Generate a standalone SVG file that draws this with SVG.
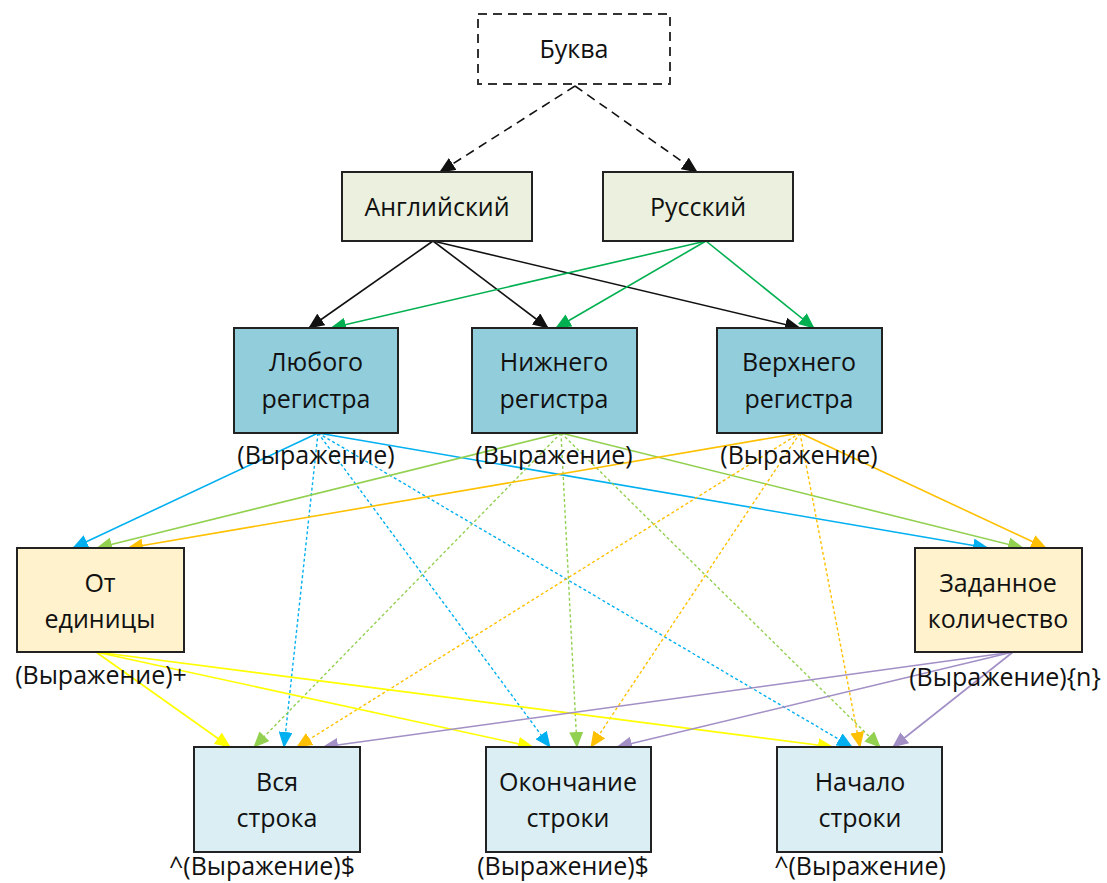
<svg xmlns="http://www.w3.org/2000/svg" width="1107" height="883" viewBox="0 0 1107 883">
<style>
.t{font-family:"Open Sans","Noto Sans",sans-serif;font-size:25px;fill:#111;text-anchor:middle}
.b{stroke:#222;stroke-width:2}
.c{fill:none;stroke-width:1.6}
.d{fill:none;stroke-width:1.4;stroke-dasharray:3 2.5}
</style>
<defs>
<marker id="mk" viewBox="0 0 16 14" markerWidth="16" markerHeight="14" refX="15" refY="7" orient="auto" markerUnits="userSpaceOnUse"><path d="M0,0L16,7L0,14z" fill="#111"/></marker>
<marker id="mg" viewBox="0 0 16 14" markerWidth="16" markerHeight="14" refX="15" refY="7" orient="auto" markerUnits="userSpaceOnUse"><path d="M0,0L16,7L0,14z" fill="#00B050"/></marker>
<marker id="mb" viewBox="0 0 16 14" markerWidth="16" markerHeight="14" refX="15" refY="7" orient="auto" markerUnits="userSpaceOnUse"><path d="M0,0L16,7L0,14z" fill="#00B0F0"/></marker>
<marker id="ml" viewBox="0 0 16 14" markerWidth="16" markerHeight="14" refX="15" refY="7" orient="auto" markerUnits="userSpaceOnUse"><path d="M0,0L16,7L0,14z" fill="#92D050"/></marker>
<marker id="mo" viewBox="0 0 16 14" markerWidth="16" markerHeight="14" refX="15" refY="7" orient="auto" markerUnits="userSpaceOnUse"><path d="M0,0L16,7L0,14z" fill="#FFC000"/></marker>
<marker id="my" viewBox="0 0 16 14" markerWidth="16" markerHeight="14" refX="15" refY="7" orient="auto" markerUnits="userSpaceOnUse"><path d="M0,0L16,7L0,14z" fill="#FFFF00"/></marker>
<marker id="mp" viewBox="0 0 16 14" markerWidth="16" markerHeight="14" refX="15" refY="7" orient="auto" markerUnits="userSpaceOnUse"><path d="M0,0L16,7L0,14z" fill="#A18FC6"/></marker>
</defs>
<rect width="1107" height="883" fill="#fff"/>

<g id="connectors">
<path d="M575,86L440,172" class="c" stroke="#111" stroke-dasharray="9 6" marker-end="url(#mk)"/>
<path d="M575,86L697,172" class="c" stroke="#111" stroke-dasharray="9 6" marker-end="url(#mk)"/>

<path d="M433,241L309,328" class="c" stroke="#111" marker-end="url(#mk)"/>
<path d="M433,241L548,328" class="c" stroke="#111" marker-end="url(#mk)"/>
<path d="M433,241L800,328" class="c" stroke="#111" marker-end="url(#mk)"/>
<path d="M706,241L331,328" class="c" stroke="#00B050" marker-end="url(#mg)"/>
<path d="M706,241L556,328" class="c" stroke="#00B050" marker-end="url(#mg)"/>
<path d="M706,241L814,328" class="c" stroke="#00B050" marker-end="url(#mg)"/>

<path d="M318,433L73,548" class="c" stroke="#00B0F0" marker-end="url(#mb)"/>
<path d="M318,433L988,548" class="c" stroke="#00B0F0" marker-end="url(#mb)"/>
<path d="M318,433L284,747" class="d" stroke="#00B0F0" marker-end="url(#mb)"/>
<path d="M318,433L550,747" class="d" stroke="#00B0F0" marker-end="url(#mb)"/>
<path d="M318,433L852,747" class="d" stroke="#00B0F0" marker-end="url(#mb)"/>

<path d="M561,433L97,548" class="c" stroke="#92D050" marker-end="url(#ml)"/>
<path d="M561,433L1023,548" class="c" stroke="#92D050" marker-end="url(#ml)"/>
<path d="M561,433L254,747" class="d" stroke="#92D050" marker-end="url(#ml)"/>
<path d="M561,433L577,747" class="d" stroke="#92D050" marker-end="url(#ml)"/>
<path d="M561,433L880,747" class="d" stroke="#92D050" marker-end="url(#ml)"/>

<path d="M800,433L128,548" class="c" stroke="#FFC000" marker-end="url(#mo)"/>
<path d="M800,433L1046,548" class="c" stroke="#FFC000" marker-end="url(#mo)"/>
<path d="M800,433L297,747" class="d" stroke="#FFC000" marker-end="url(#mo)"/>
<path d="M800,433L591,747" class="d" stroke="#FFC000" marker-end="url(#mo)"/>
<path d="M800,433L860,747" class="d" stroke="#FFC000" marker-end="url(#mo)"/>

<path d="M96,652L230,747" class="c" stroke="#FFFF00" marker-end="url(#my)"/>
<path d="M96,652L533,747" class="c" stroke="#FFFF00" marker-end="url(#my)"/>
<path d="M96,652L833,747" class="c" stroke="#FFFF00" marker-end="url(#my)"/>

<path d="M1013,652L323,747" class="c" stroke="#A18FC6" marker-end="url(#mp)"/>
<path d="M1013,652L617,747" class="c" stroke="#A18FC6" marker-end="url(#mp)"/>
<path d="M1013,652L893,747" class="c" stroke="#A18FC6" marker-end="url(#mp)"/>
</g>

<g id="bukva">
<rect x="478" y="14" width="192" height="70" fill="#fff" stroke="#333" stroke-width="2" stroke-dasharray="9 6"/>
<text class="t" x="574" y="58">Буква</text>
</g>
<g id="english">
<rect x="342" y="172" width="190" height="69" fill="#EBF1DE" class="b"/>
<text class="t" x="437" y="216">Английский</text>
</g>
<g id="russian">
<rect x="603" y="172" width="190" height="69" fill="#EBF1DE" class="b"/>
<text class="t" x="698" y="216">Русский</text>
</g>

<g id="any-case">
<rect x="234" y="328" width="164" height="105" fill="#92CDDC" class="b"/>
<text class="t" x="316" y="371">Любого</text>
<text class="t" x="316" y="408">регистра</text>
<text class="t" x="316" y="464">(Выражение)</text>
</g>
<g id="lower-case">
<rect x="472" y="328" width="165" height="105" fill="#92CDDC" class="b"/>
<text class="t" x="554" y="371">Нижнего</text>
<text class="t" x="554" y="408">регистра</text>
<text class="t" x="554" y="464">(Выражение)</text>
</g>
<g id="upper-case">
<rect x="717" y="328" width="165" height="105" fill="#92CDDC" class="b"/>
<text class="t" x="799" y="371">Верхнего</text>
<text class="t" x="799" y="408">регистра</text>
<text class="t" x="799" y="464">(Выражение)</text>
</g>

<g id="from-one">
<rect x="17" y="548" width="167" height="104" fill="#FFF2CC" class="b"/>
<text class="t" x="100" y="592">От</text>
<text class="t" x="100" y="628">единицы</text>
<text class="t" x="101" y="684">(Выражение)+</text>
</g>
<g id="given-count">
<rect x="915" y="548" width="167" height="104" fill="#FFF2CC" class="b"/>
<text class="t" x="998" y="592">Заданное</text>
<text class="t" x="998" y="628">количество</text>
<text class="t" x="1005" y="686">(Выражение){n}</text>
</g>

<g id="whole-line">
<rect x="194" y="747" width="166" height="105" fill="#DAEEF3" class="b"/>
<text class="t" x="277" y="791">Вся</text>
<text class="t" x="277" y="827">строка</text>
<text class="t" x="262" y="875">^(Выражение)$</text>
</g>
<g id="line-end">
<rect x="486" y="747" width="165" height="105" fill="#DAEEF3" class="b"/>
<text class="t" x="568" y="791">Окончание</text>
<text class="t" x="568" y="827">строки</text>
<text class="t" x="563" y="875">(Выражение)$</text>
</g>
<g id="line-start">
<rect x="777" y="747" width="165" height="105" fill="#DAEEF3" class="b"/>
<text class="t" x="860" y="791">Начало</text>
<text class="t" x="860" y="827">строки</text>
<text class="t" x="860" y="875">^(Выражение)</text>
</g>
</svg>
